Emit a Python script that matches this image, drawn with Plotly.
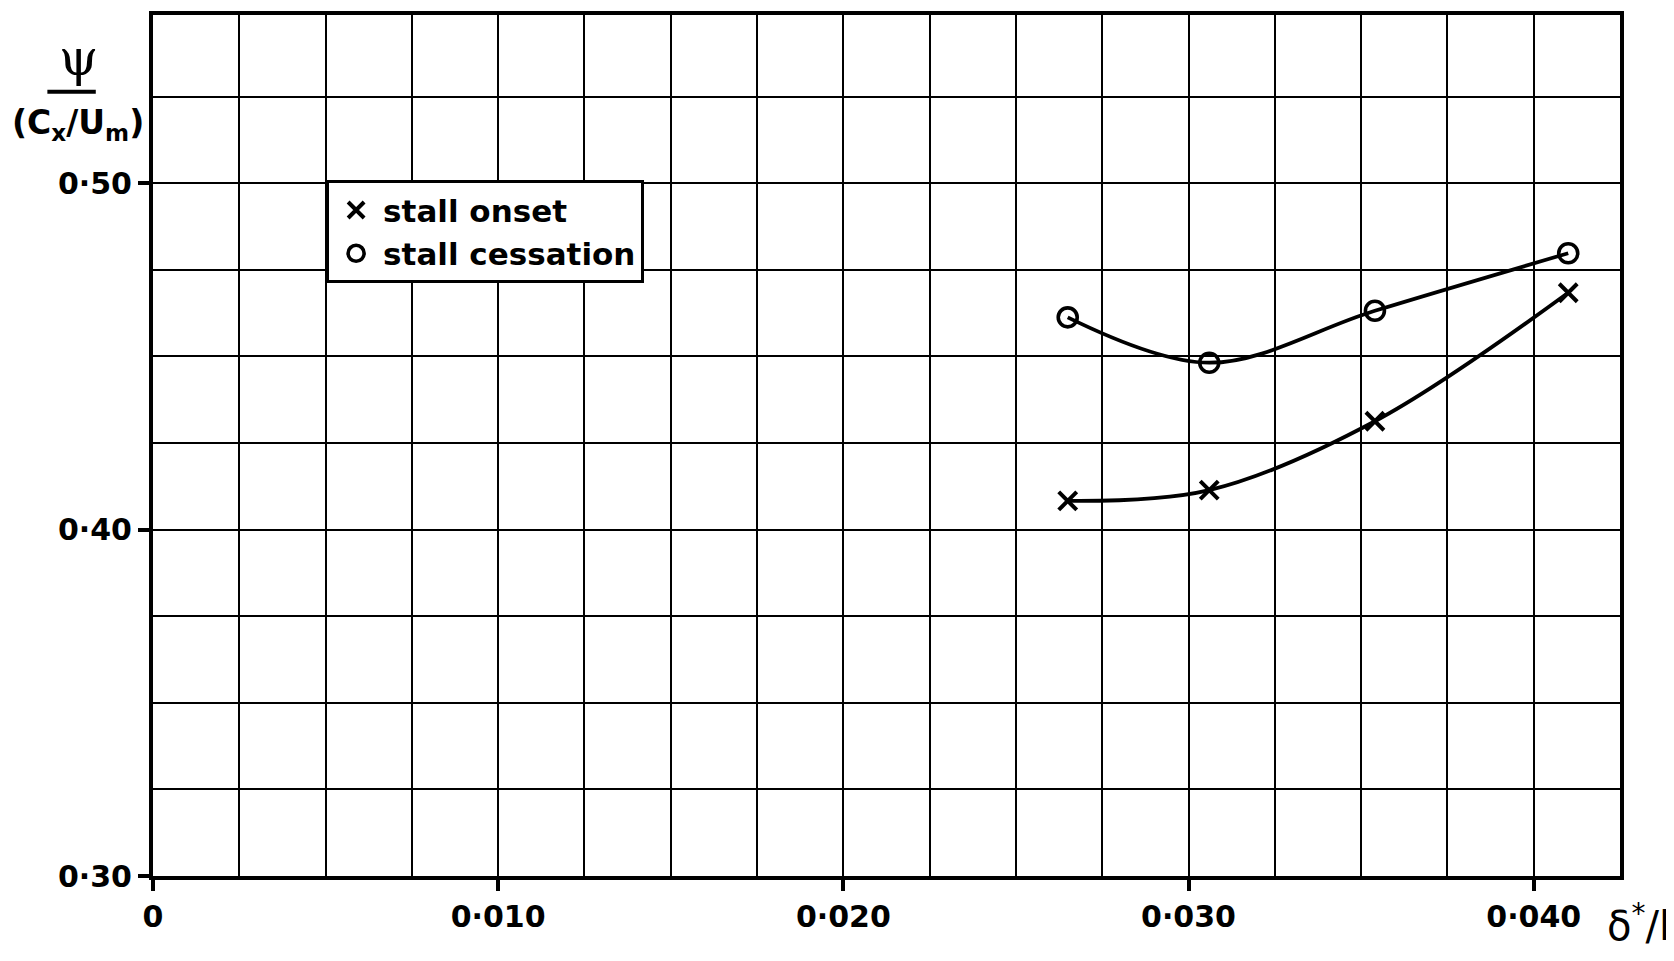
import plotly.graph_objects as go

# Data
onset_x = [0.0265, 0.0306, 0.0354, 0.0410]
onset_y = [0.4083, 0.4114, 0.4313, 0.4684]
cess_x = [0.0265, 0.0306, 0.0354, 0.0410]
cess_y = [0.4613, 0.4482, 0.4632, 0.4798]

x_tickvals = [0, 0.010, 0.020, 0.030, 0.040]
x_ticktext = ["0", "0·010", "0·020", "0·030", "0·040"]
y_tickvals = [0.30, 0.40, 0.50]
y_ticktext = ["0·30", "0·40", "0·50"]

FONT = "DejaVu Sans"
W = "bold"

fig = go.Figure()

# curves
fig.add_trace(go.Scatter(x=cess_x, y=cess_y, mode="lines", line=dict(color="black", width=3.8, shape="spline"),
                         showlegend=False, hoverinfo="skip"))
fig.add_trace(go.Scatter(x=onset_x, y=onset_y, mode="lines", line=dict(color="black", width=3.8, shape="spline"),
                         showlegend=False, hoverinfo="skip"))
# markers
fig.add_trace(go.Scatter(x=onset_x, y=onset_y, mode="markers", name="stall onset",
                         marker=dict(symbol="x-thin-open", size=18, color="black", line=dict(width=4, color="black"))))
fig.add_trace(go.Scatter(x=cess_x, y=cess_y, mode="markers", name="stall cessation",
                         marker=dict(symbol="circle-open", size=19, color="black", line=dict(width=3.6, color="black"))))

axis_common = dict(showline=True, linecolor="black", linewidth=4, mirror=True,
                   showgrid=True, gridcolor="black", gridwidth=1.8,
                   ticks="outside", ticklen=11, tickwidth=3.5, tickcolor="black",
                   tickfont=dict(family=FONT, size=30, color="black", weight=W), zeroline=False)

fig.update_xaxes(range=[0, 0.0425], tickmode="array", tickvals=x_tickvals, ticktext=x_ticktext,
                 minor=dict(dtick=0.0025, tick0=0, showgrid=True, gridcolor="black", gridwidth=1.8, ticks=""),
                 **axis_common)
fig.update_yaxes(range=[0.30, 0.5486], tickmode="array", tickvals=y_tickvals, ticktext=y_ticktext,
                 minor=dict(dtick=0.025, tick0=0.30, showgrid=True, gridcolor="black", gridwidth=1.8, ticks=""),
                 **axis_common)

fig.update_layout(
    width=1674, height=961,
    margin=dict(l=145, r=62, t=3, b=93),
    plot_bgcolor="white", paper_bgcolor="white",
    font=dict(family=FONT, color="black"),
    legend=dict(x=0.118, y=0.808, xanchor="left", yanchor="top",
                bgcolor="white", bordercolor="black", borderwidth=3,
                font=dict(family=FONT, size=31, color="black", weight=W),
                itemwidth=44, tracegroupgap=0),
)

# y-axis title as fraction
fig.add_annotation(text="ψ", xref="paper", yref="paper", x=-0.051, y=0.914,
                   xanchor="center", yanchor="bottom", showarrow=False,
                   font=dict(family="DejaVu Serif", size=50, color="black"))
fig.add_shape(type="line", xref="paper", yref="paper", x0=-0.072, x1=-0.039, y0=0.911, y1=0.911,
              line=dict(color="black", width=4))
fig.add_annotation(text="(C<sub>x</sub>/U<sub>m</sub>)", xref="paper", yref="paper", x=-0.051, y=0.9,
                   xanchor="center", yanchor="top", showarrow=False,
                   font=dict(family=FONT, size=33, color="black", weight=W))
# x-axis title
fig.add_annotation(text="δ<sup>*</sup>/l", xref="paper", yref="paper", x=0.99, y=-0.022,
                   xanchor="left", yanchor="top", showarrow=False,
                   font=dict(family=FONT, size=40, color="black"))

fig.write_html("out.html")
